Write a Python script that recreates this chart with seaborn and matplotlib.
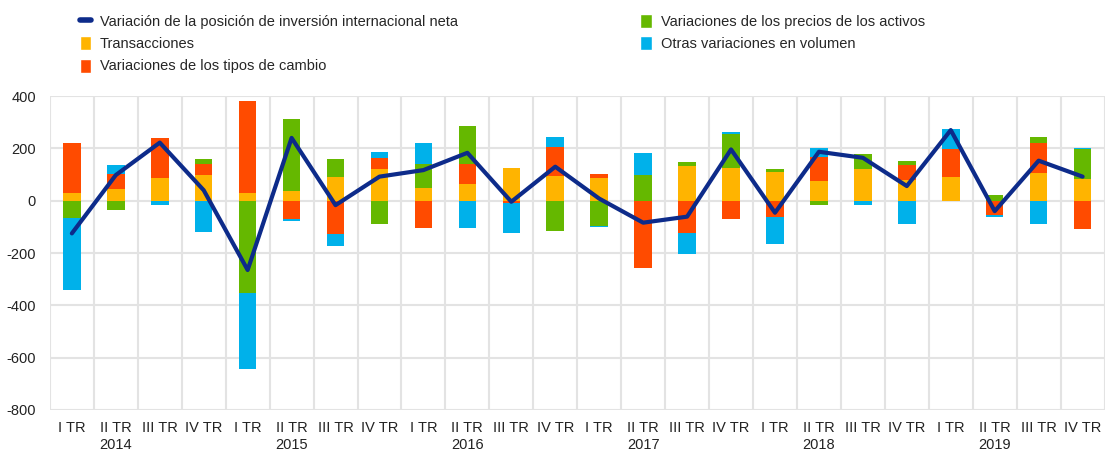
import numpy as np
import pandas as pd
import seaborn as sns
import matplotlib.pyplot as plt
import matplotlib.patches as mpatches
from matplotlib.lines import Line2D

quarters = ['I TR', 'II TR', 'III TR', 'IV TR'] * 6
years = ['2014', '2015', '2016', '2017', '2018', '2019']

# componentes (mm de euros)
transacciones = [28, 43, 88, 98, 28, 37, 92, 120, 47, 62, 124, 94,
                 88, 0, 134, 124, 108, 75, 120, 79, 92, 0, 107, 83]
tipos_cambio = [191, 59, 150, 41, 353, -71, -129, 44, -103, 77, -10, 110,
                14, -256, -125, -70, -61, 93, 0, 57, 104, -55, 112, -110]
precios = [-65, -36, 0, 19, -352, 274, 66, -89, 92, 148, 0, -115,
           -97, 97, 15, 131, 14, -17, 58, 17, 0, 22, 23, 113]
otras = [-276, 36, -17, -118, -291, -5, -44, 21, 80, -103, -115, 38,
         -5, 87, -79, 9, -105, 35, -17, -89, 77, -6, -89, 6]
neta = [-125, 98, 222, 40, -265, 240, -17, 92, 117, 183, -4, 130,
        8, -84, -61, 196, -46, 187, 164, 56, 270, -40, 153, 92]

series = [
    ('Transacciones', transacciones, '#FFB400'),
    ('Variaciones de los tipos de cambio', tipos_cambio, '#FF4B00'),
    ('Variaciones de los precios de los activos', precios, '#65B800'),
    ('Otras variaciones en volumen', otras, '#00B1EA'),
]
line_color = '#0D2B8A'

labels = []
for i, q in enumerate(quarters):
    if i % 4 == 1:
        labels.append('{}\n{}'.format(q, years[i // 4]))
    else:
        labels.append(q)

df = pd.DataFrame({'pos': np.arange(len(neta)), 'neta': neta})

sns.set_style('white')
plt.rcParams['font.family'] = ['Liberation Sans', 'DejaVu Sans']
plt.rcParams['axes.unicode_minus'] = False

fig = plt.figure(figsize=(11.09, 4.51), dpi=100)
ax = fig.add_axes([0.045, 0.091, 0.951, 0.696])

x = df.pos.values
pos_bottom = np.zeros(len(x))
neg_bottom = np.zeros(len(x))
for name, vals, color in series:
    vals = np.array(vals, dtype=float)
    bottom = np.where(vals >= 0, pos_bottom, neg_bottom)
    ax.bar(x, vals, bottom=bottom, width=0.4, color=color, linewidth=0, zorder=2)
    pos_bottom += np.clip(vals, 0, None)
    neg_bottom += np.clip(vals, None, 0)

sns.lineplot(data=df, x='pos', y='neta', color=line_color, linewidth=3, ax=ax, zorder=3)

ax.set_xlim(-0.5, len(x) - 0.5)
ax.set_ylim(-800, 400)
ax.set_yticks(range(-800, 401, 200))
ax.set_xticks(x)
ax.set_xticklabels(labels, fontsize=10.5, color='#222222', linespacing=1.25)
ax.tick_params(axis='y', labelsize=10.5, labelcolor='#222222', length=0, pad=10)
ax.tick_params(axis='x', length=0, pad=8)
ax.set_xlabel('')
ax.set_ylabel('')

# vertical gridlines between quarters
ax.set_xticks(np.arange(-0.5, len(x), 1), minor=True)
ax.grid(False)
ax.grid(which='minor', axis='x', color='#e3e3e3', linewidth=1.5, zorder=0)
ax.grid(which='major', axis='y', color='#e3e3e3', linewidth=1.5, zorder=0)
ax.set_axisbelow(True)
for s in ax.spines.values():
    s.set_visible(False)

handles = [Line2D([0], [0], color=line_color, linewidth=4,
                  label='Variación de la posición de inversión internacional neta')]
handles += [mpatches.Patch(facecolor=c, label=n) for n, v, c in series]
fig.legend(handles=handles, loc='upper left', ncol=2,
           bbox_to_anchor=(0.06, 0.998), frameon=False, fontsize=10.5,
           handlelength=0.8, handleheight=1.1, handletextpad=0.6,
           columnspacing=12.5, labelspacing=0.5)

plt.savefig('out.png', dpi=100)
plt.close('all')
